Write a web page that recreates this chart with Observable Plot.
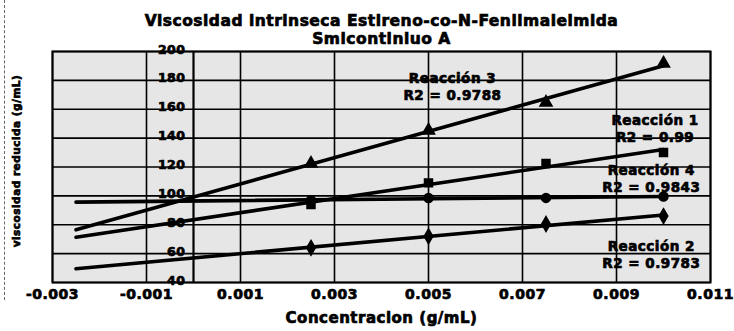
<!DOCTYPE html>
<html><head><meta charset="utf-8">
<script src="https://cdn.jsdelivr.net/npm/d3@7"></script>
<script src="https://cdn.jsdelivr.net/npm/@observablehq/plot@0.6"></script>
<style>
body{margin:0;background:#fff;}
#chart{position:relative;width:734px;height:331px;overflow:hidden;}
#scan{position:absolute;left:4px;top:0;height:300px;border-left:1px dashed #666;}
#chart svg text{font-family:"DejaVu Sans",sans-serif;font-weight:bold;stroke:#000;stroke-width:0.7px;letter-spacing:0.5px;}
</style></head><body><div id="chart"><div id="scan"></div></div>
<script>
// ---- data ----
const concentracion = [0.0025, 0.005, 0.0075, 0.01];
const reaccion1 = [94, 109, 122.4, 130];
const reaccion2 = [64, 72, 80.5, 86];
const reaccion3 = [122.4, 145.3, 164.6, 191.7];
const reaccion4 = [97.0, 98.5, 98.6, 99.6];
const seriesNames = ["Reacción 1", "Reacción 2", "Reacción 3", "Reacción 4"];
const r2Labels = ["R2 = 0.99", "R2 = 0.9783", "R2 = 0.9788", "R2 = 0.9843"];
const xTicks = [-0.003, -0.001, 0.001, 0.003, 0.005, 0.007, 0.009, 0.011];
const yTicks = [40, 60, 80, 100, 120, 140, 160, 180, 200];
const trendStart = -0.0025; // Excel backward forecast of the trendlines
const titleLines = ["Viscosidad intrinseca Estireno-co-N-Fenilmaleimida", "Smicontiniuo A"];

// ---- build tables ----
const allSeries = [reaccion1, reaccion2, reaccion3, reaccion4];
const symbols = ["square", "diamond", "triangle", "circle"];
const points = allSeries.flatMap((vals, i) =>
  vals.map((v, j) => ({serie: seriesNames[i], x: concentracion[j], y: v, symbol: symbols[i]})));

const trend = allSeries.flatMap((vals, i) => {
  const mx = d3.mean(concentracion), my = d3.mean(vals);
  const sxy = d3.sum(concentracion, (x, j) => (x - mx) * (vals[j] - my));
  const sxx = d3.sum(concentracion, x => (x - mx) ** 2);
  const b = sxy / sxx, a = my - b * mx;
  const x1 = d3.max(concentracion);
  return [{serie: seriesNames[i], x: trendStart, y: a + b * trendStart},
          {serie: seriesNames[i], x: x1, y: a + b * x1}];
});

// annotation anchors (data units) for the trendline labels
const annotations = [
  {text: seriesNames[2] + "\n" + r2Labels[2], x: 0.00551, y: 176.1},
  {text: seriesNames[0] + "\n" + r2Labels[0], x: 0.00982, y: 146.7},
  {text: seriesNames[3] + "\n" + r2Labels[3], x: 0.00974, y: 112.4},
  {text: seriesNames[1] + "\n" + r2Labels[1], x: 0.00974, y: 59.4}
];

const chart = Plot.plot({
  width: 734, height: 331,
  marginLeft: 52, marginRight: 24, marginTop: 51, marginBottom: 49,
  x: {domain: [-0.003, 0.011], axis: null},
  y: {domain: [40, 200], axis: null},
  style: {background: "transparent", overflow: "visible"},
  marks: [
    Plot.frame({fill: "#e6e6e6", stroke: null}),
    Plot.ruleY(yTicks, {stroke: "#000", strokeWidth: 1.6}),
    Plot.ruleX(xTicks, {stroke: "#000", strokeWidth: 1.6}),
    Plot.ruleX([0], {stroke: "#000", strokeWidth: 2.2}),
    Plot.frame({stroke: "#000", strokeWidth: 2}),
    Plot.line(trend, {x: "x", y: "y", z: "serie", stroke: "#000", strokeWidth: 3.6, strokeLinecap: "round"}),
    Plot.dot(points, {x: "x", y: "y", symbol: "symbol", r: 4.5, fill: "#000", stroke: "#000"}),
    Plot.text(annotations, {x: "x", y: "y", text: "text", fontSize: 13.5, lineHeight: 1.25, fill: "#000"}),
    // y tick labels at the x = 0 crossing
    Plot.text(yTicks, {x: () => 0, y: d => d, text: d => String(d), textAnchor: "end", dx: -8, dy: -2, fontSize: 12.5, fill: "#000"}),
    // x tick labels
    Plot.text(xTicks, {x: d => d, frameAnchor: "bottom", text: d => d.toFixed(3), dy: 16, fontSize: 14, fill: "#000"}),
    // axis titles
    Plot.text(["Concentracion (g/mL)"], {frameAnchor: "bottom", dy: 40, fontSize: 15, fill: "#000"}),
    Plot.text(["viscosidad reducida (g/mL)"], {frameAnchor: "left", textAnchor: "middle", rotate: -90, dx: -36, dy: -6, fontSize: 10.5, fill: "#000"}),
    // title
    Plot.text([titleLines[0]], {frameAnchor: "top", dy: -37, fontSize: 15.5, fill: "#000"}),
    Plot.text([titleLines[1]], {frameAnchor: "top", dy: -19, fontSize: 15.5, fill: "#000"})
  ]
});
document.getElementById("chart").appendChild(chart);
</script>
</body></html>
